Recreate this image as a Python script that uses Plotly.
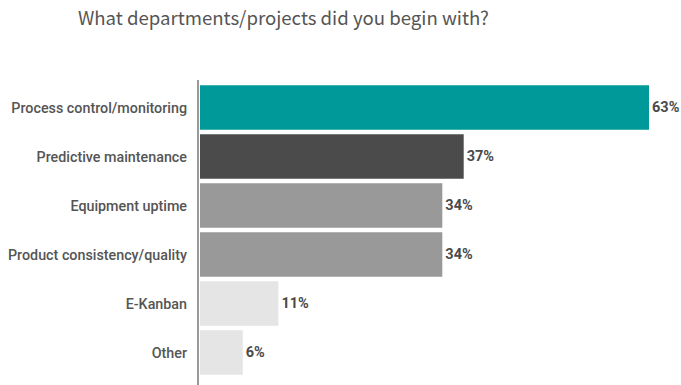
import plotly.graph_objects as go

categories = [
    "Process control/monitoring",
    "Predictive maintenance",
    "Equipment uptime",
    "Product consistency/quality",
    "E-Kanban",
    "Other",
]
values = [63, 37, 34, 34, 11, 6]
bar_colors = ["#009999", "#4b4b4b", "#999999", "#999999", "#e5e5e5", "#e5e5e5"]
value_labels = [f"{v}%" for v in values]

W, H = 681, 385
M_L, M_R, M_T, M_B = 200, 0, 83, 8
plot_w = W - M_L - M_R
px_per_pct = 449 / 63

fig = go.Figure(
    go.Bar(
        x=values,
        y=categories,
        orientation="h",
        marker=dict(color=bar_colors, line=dict(width=0)),
        text=value_labels,
        textposition="outside",
        textfont=dict(family="Roboto", size=14.5, color="#4a4a4a", weight="bold"),
        cliponaxis=False,
        width=0.91,
        hoverinfo="skip",
    )
)

fig.update_layout(
    width=W,
    height=H,
    margin=dict(l=M_L, r=M_R, t=M_T, b=M_B, pad=0),
    paper_bgcolor="white",
    plot_bgcolor="white",
    showlegend=False,
    xaxis=dict(
        range=[0, plot_w / px_per_pct],
        visible=False,
        fixedrange=True,
    ),
    yaxis=dict(
        autorange="reversed",
        showline=False,
        showgrid=False,
        zeroline=False,
        ticks="",
        ticklabelstandoff=12,
        tickfont=dict(family="Roboto", size=14.3, color="#555555", weight=500),
        fixedrange=True,
    ),
    annotations=[
        dict(
            text="What departments/projects did you begin with?",
            xref="paper", yref="paper",
            x=(283.5 - M_L) / plot_w,
            y=1 + (M_T - 17) / (H - M_T - M_B),
            xanchor="center", yanchor="middle",
            showarrow=False,
            font=dict(family="Noto Sans CJK SC", size=18.6, color="#555555"),
        )
    ],
    shapes=[
        dict(
            type="line",
            xref="paper", yref="paper",
            x0=-2 / plot_w, x1=-2 / plot_w,
            y0=1 + 3 / (H - M_T - M_B), y1=-(M_B + 2) / (H - M_T - M_B),
            line=dict(color="#999999", width=2),
        )
    ],
)

fig.write_html("out.html", config={"displayModeBar": False})
